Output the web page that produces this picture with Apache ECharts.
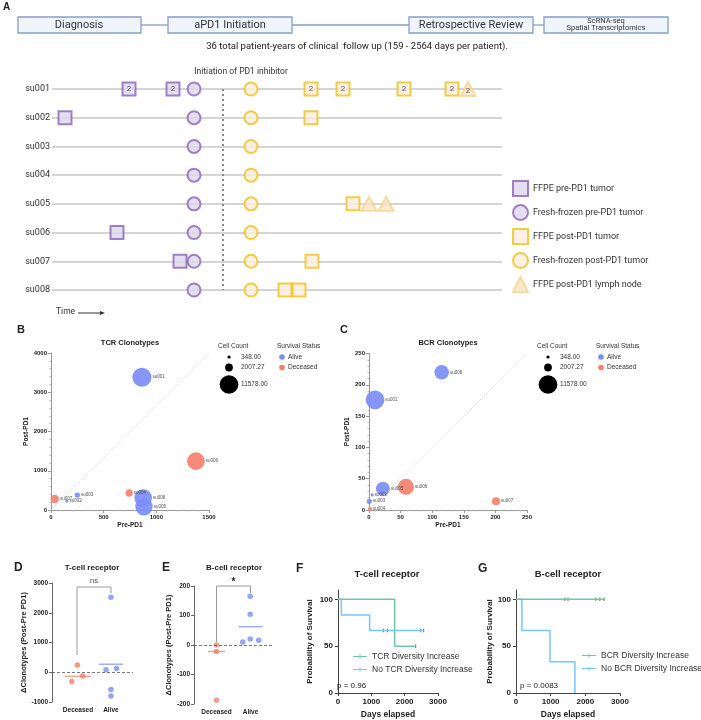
<!DOCTYPE html>
<html><head><meta charset="utf-8">
<script src="https://cdn.jsdelivr.net/npm/echarts@6.0.0/dist/echarts.min.js"></script>
<style>html,body{margin:0;padding:0;background:#fff}#c{width:701px;height:720px}</style>
</head><body><div id="c"></div>
<script>
// ---------------- DATA ----------------
const patients = ['su001','su002','su003','su004','su005','su006','su007','su008'];
const sampleTypes = ['FFPE pre-PD1 tumor','Fresh-frozen pre-PD1 tumor','FFPE post-PD1 tumor','Fresh-frozen post-PD1 tumor','FFPE post-PD1 lymph node'];
// Panel A timeline (relative timeline units), patient, number of samples
const ffpePreT = [77,121,13,65,128];
const ffpePreP = ['su001','su001','su002','su006','su007'];
const ffpePreN = [2,2,1,1,1];
const freshPreT = [142,142,142,142,142,142,142,142];
const freshPostT = [199,199,199,199,199,199,199,199];
const ffpePostT = [259,291,352,400,259,301,260,233,247];
const ffpePostP = ['su001','su001','su001','su001','su002','su005','su007','su008','su008'];
const ffpePostN = [2,2,2,2,1,1,1,1,1];
const lymphT = [416,317,334];
const lymphP = ['su001','su005','su005'];
const lymphN = [2,1,1];
const pd1Start = 171;

// Panels B/C clonotypes
const status = ['Alive','Alive','Alive','Deceased','Alive','Deceased','Deceased','Alive'];
const tcrPre  = [863,150,250,742,883,1376,36,875];
const tcrPost = [3384,229,381,433,80,1245,280,305];
const tcrCells = [12000,348,900,1750,10000,10300,2300,10300];
const bcrPre  = [9.5,5,0.5,1.5,22,58.5,201,115];
const bcrPost = [176,24,14,1.5,34,37,14,220];
const bcrCells = [11578,348,900,600,6500,8500,2200,7000];
const cellLegend = [348.00, 2007.27, 11578.00];
const bXTicks = [0,500,1000,1500], bYTicks = [0,1000,2000,3000,4000];
const cXTicks = [0,50,100,150,200,250], cYTicks = [0,50,100,150,200,250];

// Panels D/E delta clonotypes (x = group position with jitter)
const groups = ['Deceased','Alive'];
const dDecX = [-0.19,-0.02,0.14], dDecY = [-310,240,-130];
const dAliveX = [1.0,0.85,1.17,1.0,1.0], dAliveY = [2520,80,130,-580,-800];
const dLines = [-135,270];
const eDecX = [0,0,0], eDecY = [0,-22,-187];
const eAliveX = [0.77,0.99,0.99,0.99,1.24], eAliveY = [10,165,104,20,16];
const eLines = [-22,62];
const dYTicks = [-1000,0,1000,2000,3000], eYTicks = [-200,-100,0,100,200];

// Panels F/G Kaplan-Meier
const fIncDays=[0,1700,2330], fIncSurv=[100,50,50], fIncCens=[2330];
const fNoDays=[0,100,950,2570], fNoSurv=[100,83.3,66.7,66.7], fNoCens=[1360,1480,2480,2570];
const gIncDays=[0,2560], gIncSurv=[100,100], gIncCens=[1410,1500,2300,2420,2540];
const gNoDays=[0,170,980,1700], gNoSurv=[100,66.7,33.3,0];
const kmXTicks=[0,1000,2000,3000], kmYTicks=[0,50,100];

// ---------------- STYLE ----------------
const FONT = '"Liberation Sans", Arial, sans-serif';
const RFONT = 'Roboto, "Liberation Sans", sans-serif';
const ALIVE = '#7b8df5', DEAD = '#f4806d';
const PURPLE = '#8c62b8', PURPLE_F = '#ddd6ee', YEL = '#ecc21b', YEL_F = '#fdeedd', TRI = '#f3d58f', TRI_F = '#fde3c4';
const GREEN = '#6cc9a0', SKY = '#78c5f7';
const HB = '#8b9dc3', HF = '#f0f4fb';

function zip(a,b,c){ return a.map((v,i)=> c ? [v,b[i],c[i]] : [v,b[i]]); }
function survAt(days, surv, t){ let s = surv[0]; for(let i=0;i<days.length;i++){ if(days[i]<=t) s = surv[i]; } return s; }
function bubbleSize(v){ return 18.7*Math.sqrt(v[2]/11578); }
function bubbles(pre, post, cells){
  return patients.map((p,i)=>({name:p, value:[pre[i],post[i],cells[i]], itemStyle:{color: status[i]==='Alive'?ALIVE:DEAD}}));
}
function T(x,y,text,size,o){
  o = o||{};
  const al = o.al||'left';
  return {type:'text', z:100, style:{text, x, y, fontSize:size, fontFamily:o.ff||FONT, fontWeight:o.fw||'normal', fill:o.c||'#222',
    align:al, textAlign:al, verticalAlign:'middle', textVerticalAlign:'middle'}};
}
function box(x,y,w,h){ return {type:'rect', shape:{x,y,width:w,height:h}, style:{fill:HF, stroke:HB, lineWidth:1.3}}; }
function hline(x1,x2,y,c,w){ return {type:'line', shape:{x1,y1:y,x2,y2:y}, style:{stroke:c,lineWidth:w}}; }
function poly(pts,c,w){ return {type:'polyline', shape:{points:pts}, style:{stroke:c, lineWidth:w, fill:null}}; }
function circ(cx,cy,r,c){ return {type:'circle', shape:{cx,cy,r}, style:{fill:c}}; }

const g = [];
// Panel A header
g.push(T(3,7,'A',10,{fw:'bold'}));
g.push(hline(141,168,25,HB,1.3), hline(292,409,25,HB,1.3), hline(533,544,25,HB,1.3));
g.push(box(18,17,123,16), box(168,17,124,16), box(409,17,124,16), box(544,17,124,16));
g.push(T(79,25,'Diagnosis',11,{al:'center',ff:RFONT,c:'#333'}));
g.push(T(230,25,'aPD1 Initiation',11,{al:'center',ff:RFONT,c:'#333'}));
g.push(T(471,25,'Retrospective Review',11,{al:'center',ff:RFONT,c:'#333'}));
g.push(T(606,21.5,'ScRNA-seq',7.5,{al:'center',ff:RFONT,c:'#333'}));
g.push(T(606,28.5,'Spatial Transcriptomics',7.5,{al:'center',ff:RFONT,c:'#333'}));
g.push(T(357,47,'36 total patient-years of clinical  follow up (159 - 2564 days per patient).',9.5,{al:'center',ff:RFONT,c:'#222'}));
g.push(T(241,72,'Initiation of PD1 inhibitor',8.5,{al:'center',ff:RFONT,c:'#333'}));
g.push(T(56,312,'Time',8.5,{ff:RFONT,c:'#333'}));
g.push(hline(78,101,313,'#333',1));
g.push({type:'polygon', shape:{points:[[105,313],[100,311],[100,315]]}, style:{fill:'#333'}});
// Panels B/C
g.push(T(17,330,'B',11,{fw:'bold'}), T(340,330,'C',11,{fw:'bold'}));
g.push(T(130,343,'TCR Clonotypes',7.5,{al:'center',fw:'bold'}));
g.push(T(448,343,'BCR Clonotypes',7.5,{al:'center',fw:'bold'}));
[0,319].forEach(dx=>{
  g.push(T(218+dx,346,'Cell Count',6.5,{c:'#333'}));
  const ys=[357,367.5,384.5];
  cellLegend.forEach((v,i)=>{ g.push(circ(229+dx,ys[i],18.7*Math.sqrt(v/11578)/2,'#000')); g.push(T(241+dx,ys[i],v.toFixed(2),6.5,{c:'#333'})); });
  g.push(T(277+dx,346,'Survival Status',6.5,{c:'#333'}));
  g.push(circ(282+dx,357,2.8,ALIVE), T(288+dx,357,'Alive',6.5,{c:'#333'}));
  g.push(circ(282+dx,367.5,2.8,DEAD), T(288+dx,367.5,'Deceased',6.5,{c:'#333'}));
});
// Panels D/E/F/G
g.push(T(14,568,'D',12,{fw:'bold'}), T(162,568,'E',12,{fw:'bold'}), T(296,569,'F',12,{fw:'bold'}), T(478,569,'G',12,{fw:'bold'}));
g.push(T(92,568,'T-cell receptor',8,{al:'center',fw:'bold'}));
g.push(T(234,568,'B-cell receptor',8,{al:'center',fw:'bold'}));
g.push(T(387,574,'T-cell receptor',9.5,{al:'center',fw:'bold'}));
g.push(T(568,574,'B-cell receptor',9.5,{al:'center',fw:'bold'}));
g.push(poly([[77,655],[77,587],[111,587],[111,593]],'#999',1));
g.push(T(94,581,'ns',7.5,{al:'center',c:'#444'}));
g.push(poly([[216.5,642],[216.5,586],[250.5,586],[250.5,593]],'#999',1));
g.push(T(233.5,582,'*',10,{al:'center',fw:'bold'}));
g.push(T(337,686,'p = 0.96',8,{c:'#222'}));
g.push(T(520,686,'p = 0.0083',8,{c:'#222'}));

// ---------------- AXES ----------------
const plain = v => String(v);
const tickLbl = (s)=>({fontSize:s, fontWeight:'bold', color:'#222', fontFamily:FONT, formatter:plain});
const nameSt = (s)=>({fontSize:s, fontWeight:'bold', color:'#222', fontFamily:FONT});
function valAx(gi, ticks, o){
  return Object.assign({type:'value', gridIndex:gi, min:ticks[0], max:ticks[ticks.length-1], interval:ticks[1]-ticks[0],
    splitLine:{show:false}, axisLine:{show:true, onZero:false, lineStyle:{color:'#999', width:1}},
    axisTick:{show:true, length:3, lineStyle:{color:'#999'}}, axisLabel:Object.assign({margin:4}, tickLbl(6))}, o||{});
}
const minor = {show:true, splitNumber:5, length:1.5, lineStyle:{color:'#bbb'}};
const xAxis = [
  {type:'value', gridIndex:0, min:0, max:450, show:false},
  valAx(1,bXTicks,{name:'Pre-PD1', nameLocation:'middle', nameGap:12, nameTextStyle:nameSt(6.5), minorTick:minor}),
  valAx(2,cXTicks,{name:'Pre-PD1', nameLocation:'middle', nameGap:12, nameTextStyle:nameSt(6.5), minorTick:minor}),
  {type:'value', gridIndex:3, min:-0.79, max:1.67, splitLine:{show:false}, axisLine:{show:false}, axisTick:{show:false},
    axisLabel:Object.assign(tickLbl(6.5), {customValues:[0,1], formatter:v=>groups[Math.round(v)], margin:5})},
  {type:'value', gridIndex:4, min:-0.66, max:1.63, splitLine:{show:false}, axisLine:{show:false}, axisTick:{show:false},
    axisLabel:Object.assign(tickLbl(6.5), {customValues:[0,1], formatter:v=>groups[Math.round(v)], margin:5})},
  valAx(5,kmXTicks,{name:'Days elapsed', nameLocation:'middle', nameGap:17, nameTextStyle:nameSt(8.5), axisLine:{show:true,onZero:false,lineStyle:{color:'#444'}}, axisTick:{show:true,length:3,lineStyle:{color:'#444'}}, axisLabel:Object.assign({margin:5},tickLbl(8))}),
  valAx(6,kmXTicks,{name:'Days elapsed', nameLocation:'middle', nameGap:17, nameTextStyle:nameSt(8.5), axisLine:{show:true,onZero:false,lineStyle:{color:'#444'}}, axisTick:{show:true,length:3,lineStyle:{color:'#444'}}, axisLabel:Object.assign({margin:5},tickLbl(8))})
];
const kmY = (gi,gap)=>({type:'value', gridIndex:gi, min:0, max:110, splitLine:{show:false},
  name:'Probability of Survival', nameLocation:'middle', nameGap:gap, nameRotate:90, nameTextStyle:nameSt(8),
  axisLine:{show:true,onZero:false,lineStyle:{color:'#444'}},
  axisTick:{show:true,length:3,customValues:kmYTicks,lineStyle:{color:'#444'}},
  axisLabel:Object.assign(tickLbl(8), {customValues:kmYTicks, margin:5})});
const yAxis = [
  {type:'category', gridIndex:0, data:patients, inverse:true, boundaryGap:false,
    axisLine:{show:false}, axisTick:{show:false},
    axisLabel:{fontSize:9, color:'#333', fontFamily:RFONT, margin:2},
    splitLine:{show:true, interval:0, lineStyle:{color:'#d5d5d5', width:2}}},
  valAx(1,bYTicks,{name:'Post-PD1', nameLocation:'middle', nameGap:17, nameRotate:90, nameTextStyle:nameSt(6.5), minorTick:minor}),
  valAx(2,cYTicks,{name:'Post-PD1', nameLocation:'middle', nameGap:16, nameRotate:90, nameTextStyle:nameSt(6.5), minorTick:minor}),
  valAx(3,dYTicks,{name:'\u0394Clonotypes (Post-Pre PD1)', nameLocation:'middle', nameGap:18, nameRotate:90, nameTextStyle:nameSt(7.5), axisLine:{show:true,onZero:false,lineStyle:{color:'#666'}}, axisTick:{show:true,length:3,lineStyle:{color:'#666'}}, axisLabel:Object.assign({margin:4},tickLbl(6.5))}),
  valAx(4,eYTicks,{name:'\u0394Clonotypes (Post-Pre PD1)', nameLocation:'middle', nameGap:18, nameRotate:90, nameTextStyle:nameSt(7.5), axisLine:{show:true,onZero:false,lineStyle:{color:'#666'}}, axisTick:{show:true,length:3,lineStyle:{color:'#666'}}, axisLabel:Object.assign({margin:4},tickLbl(6.5))}),
  kmY(5,24), kmY(6,21)
];

// ---------------- SERIES ----------------
const numLabel = {show:true, position:'inside', formatter:p=> p.data[2]>1 ? String(p.data[2]) : '', fontSize:8, color:'#333', fontFamily:RFONT};
const series = [
  {name:sampleTypes[0], type:'scatter', xAxisIndex:0, yAxisIndex:0, symbol:'rect', symbolSize:13,
    itemStyle:{color:PURPLE_F, borderColor:PURPLE, borderWidth:2}, label:numLabel, data:zip(ffpePreT,ffpePreP,ffpePreN), z:3},
  {name:sampleTypes[1], type:'scatter', xAxisIndex:0, yAxisIndex:0, symbol:'circle', symbolSize:13,
    itemStyle:{color:PURPLE_F, borderColor:PURPLE, borderWidth:2}, data:zip(freshPreT,patients), z:4,
    markLine:{silent:true, symbol:'none', label:{show:false}, lineStyle:{type:[2,3], color:'#888', width:2}, data:[{xAxis:pd1Start}]}},
  {name:sampleTypes[2], type:'scatter', xAxisIndex:0, yAxisIndex:0, symbol:'rect', symbolSize:13,
    itemStyle:{color:YEL_F, borderColor:YEL, borderWidth:2}, label:numLabel, data:zip(ffpePostT,ffpePostP,ffpePostN), z:3},
  {name:sampleTypes[3], type:'scatter', xAxisIndex:0, yAxisIndex:0, symbol:'circle', symbolSize:13,
    itemStyle:{color:YEL_F, borderColor:YEL, borderWidth:2}, data:zip(freshPostT,patients), z:3},
  {name:sampleTypes[4], type:'scatter', xAxisIndex:0, yAxisIndex:0, symbol:'triangle', symbolSize:[15,14],
    itemStyle:{color:TRI_F, borderColor:TRI, borderWidth:2}, label:Object.assign({}, numLabel, {offset:[0,2]}), data:zip(lymphT,lymphP,lymphN), z:3},

  // B
  {type:'line', xAxisIndex:1, yAxisIndex:1, showSymbol:false, silent:true, lineStyle:{color:'#ccc', width:0.8, type:[1.5,1.5]},
    data:[[bXTicks[0],bYTicks[0]],[bXTicks[bXTicks.length-1],bYTicks[bYTicks.length-1]]]},
  {type:'scatter', xAxisIndex:1, yAxisIndex:1, symbolSize:bubbleSize, itemStyle:{opacity:0.92},
    label:{show:true, position:'right', distance:1, formatter:'{b}', fontSize:4.5, color:'#444', fontFamily:FONT},
    data:bubbles(tcrPre,tcrPost,tcrCells)},
  // C
  {type:'line', xAxisIndex:2, yAxisIndex:2, showSymbol:false, silent:true, lineStyle:{color:'#ccc', width:0.8, type:[1.5,1.5]},
    data:[[cXTicks[0],cYTicks[0]],[cXTicks[cXTicks.length-1],cYTicks[cYTicks.length-1]]]},
  {type:'scatter', xAxisIndex:2, yAxisIndex:2, symbolSize:bubbleSize, itemStyle:{opacity:0.92},
    label:{show:true, position:'right', distance:1, formatter:'{b}', fontSize:4.5, color:'#444', fontFamily:FONT},
    data:bubbles(bcrPre,bcrPost,bcrCells)},

  // D
  {type:'scatter', xAxisIndex:3, yAxisIndex:3, symbolSize:5.5, itemStyle:{color:DEAD}, data:zip(dDecX,dDecY),
    markLine:{silent:true, symbol:'none', label:{show:false}, lineStyle:{type:[3,2], color:'#555', width:0.8}, data:[{yAxis:0}]}},
  {type:'scatter', xAxisIndex:3, yAxisIndex:3, symbolSize:5.5, itemStyle:{color:ALIVE}, data:zip(dAliveX,dAliveY)},
  {type:'scatter', xAxisIndex:3, yAxisIndex:3, symbol:'rect', symbolSize:[26,1.3], itemStyle:{color:DEAD}, data:[[0,dLines[0]]]},
  {type:'scatter', xAxisIndex:3, yAxisIndex:3, symbol:'rect', symbolSize:[24,1.3], itemStyle:{color:ALIVE}, data:[[1,dLines[1]]]},
  // E
  {type:'scatter', xAxisIndex:4, yAxisIndex:4, symbolSize:5.5, itemStyle:{color:DEAD}, data:zip(eDecX,eDecY),
    markLine:{silent:true, symbol:'none', label:{show:false}, lineStyle:{type:[3,2], color:'#555', width:0.8}, data:[{yAxis:0}]}},
  {type:'scatter', xAxisIndex:4, yAxisIndex:4, symbolSize:5.5, itemStyle:{color:ALIVE}, data:zip(eAliveX,eAliveY)},
  {type:'scatter', xAxisIndex:4, yAxisIndex:4, symbol:'rect', symbolSize:[17,1.3], itemStyle:{color:DEAD}, data:[[0,eLines[0]]]},
  {type:'scatter', xAxisIndex:4, yAxisIndex:4, symbol:'rect', symbolSize:[24,1.3], itemStyle:{color:ALIVE}, data:[[1,eLines[1]]]},

  // F
  {name:'No TCR Diversity Increase', type:'line', step:'end', xAxisIndex:5, yAxisIndex:5, showSymbol:false, color:SKY, lineStyle:{width:1.5}, data:zip(fNoDays,fNoSurv)},
  {name:'TCR Diversity Increase', type:'line', step:'end', xAxisIndex:5, yAxisIndex:5, showSymbol:false, color:GREEN, lineStyle:{width:1.5}, data:zip(fIncDays,fIncSurv)},
  {type:'scatter', xAxisIndex:5, yAxisIndex:5, symbol:'rect', symbolSize:[1,3.5], itemStyle:{color:'#335'}, data:fNoCens.map(t=>[t,survAt(fNoDays,fNoSurv,t)])},
  {type:'scatter', xAxisIndex:5, yAxisIndex:5, symbol:'rect', symbolSize:[1,3.5], itemStyle:{color:'#353'}, data:fIncCens.map(t=>[t,survAt(fIncDays,fIncSurv,t)])},
  // G
  {name:'No BCR Diversity Increase', type:'line', step:'end', xAxisIndex:6, yAxisIndex:6, showSymbol:false, color:SKY, lineStyle:{width:1.5}, data:zip(gNoDays,gNoSurv)},
  {name:'BCR Diversity Increase', type:'line', step:'end', xAxisIndex:6, yAxisIndex:6, showSymbol:false, color:GREEN, lineStyle:{width:1.5}, data:zip(gIncDays,gIncSurv)},
  {type:'scatter', xAxisIndex:6, yAxisIndex:6, symbol:'rect', symbolSize:[1,3.5], itemStyle:{color:'#353'}, data:gIncCens.map(t=>[t,survAt(gIncDays,gIncSurv,t)])}
];

const kmIcon = 'path://M0,2.5h14v1h-14z M6.5,1h1v4h-1z';
const option = {
  animation:false,
  backgroundColor:'#fff',
  grid:[
    {left:52, top:89, width:450, height:201},
    {left:51, top:353, width:158, height:157},
    {left:369, top:353.5, width:158, height:156.5},
    {left:52, top:583, width:81, height:119},
    {left:194, top:586, width:78, height:118},
    {left:338, top:590, width:100, height:103},
    {left:516, top:590, width:104, height:103}
  ],
  xAxis, yAxis, series,
  legend:[
    {data:sampleTypes, left:512, top:180, padding:0, orient:'vertical', itemWidth:15, itemHeight:15, itemGap:7, selectedMode:false,
      textStyle:{fontSize:9, color:'#333', fontFamily:RFONT}},
    {data:['TCR Diversity Increase','No TCR Diversity Increase'], left:353, top:652, padding:0, orient:'vertical', icon:kmIcon,
      itemWidth:14, itemHeight:5, itemGap:4, selectedMode:false, textStyle:{fontSize:8.5, color:'#333', fontFamily:FONT}},
    {data:['BCR Diversity Increase','No BCR Diversity Increase'], left:582, top:651, padding:0, orient:'vertical', icon:kmIcon,
      itemWidth:14, itemHeight:5, itemGap:4, selectedMode:false, textStyle:{fontSize:8.5, color:'#333', fontFamily:FONT}}
  ],
  graphic:{elements:g}
};
const chart = echarts.init(document.getElementById('c'));
chart.setOption(option);
</script>
</body></html>
